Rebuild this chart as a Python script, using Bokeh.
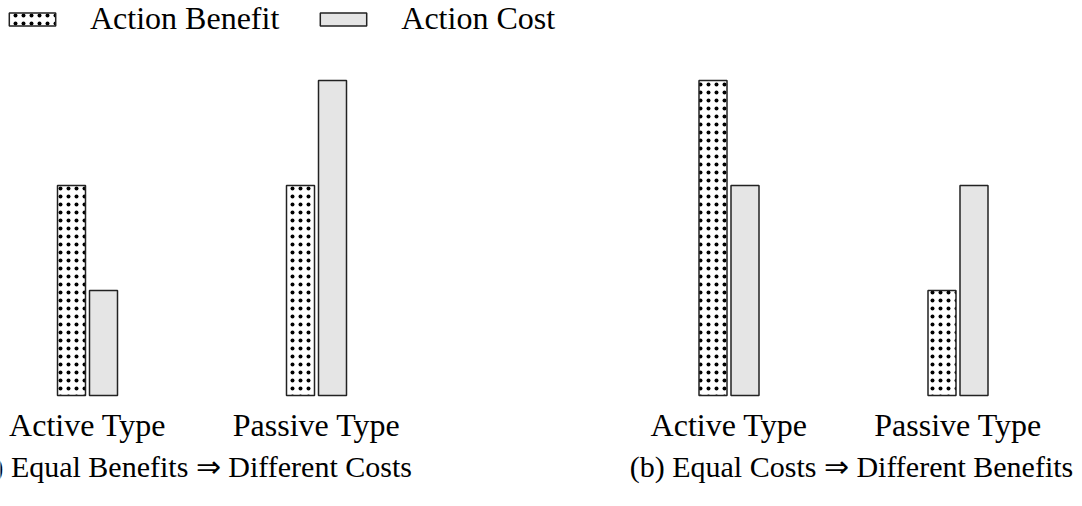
from bokeh.plotting import figure
from bokeh.models import Range1d, Legend, LegendItem, ColumnDataSource
from bokeh.core.properties import value
from bokeh.embed import file_html
from bokeh.resources import INLINE

# ---- data ----
categories = ["Active Type", "Passive Type"]
panel_captions = ["(a) Equal Benefits \u21d2 Different Costs",
                  "(b) Equal Costs \u21d2 Different Benefits"]
series_names = ["Action Benefit", "Action Cost"]
benefit_a = [2, 2]
cost_a = [1, 3]
benefit_b = [3, 1]
cost_b = [2, 2]

# ---- layout constants ----
W, H = 1080, 504
PX_X = 229.0          # pixels per category step
PX_Y = 105.0          # pixels per value unit
X0_PX = 87.0          # canvas x of first group centre
BASE_PX = 395.0       # canvas y of the baseline
panel_offset = [0.0, 641.5 / PX_X]
caption_shift = [103.5 / PX_X, 122.5 / PX_X]
bar_w = 28 / PX_X
bar_shift = 16 / PX_X
FONT = "Liberation Serif"

p = figure(width=W, height=H, output_backend="svg", toolbar_location=None,
           x_range=Range1d(-X0_PX / PX_X, (W - X0_PX) / PX_X),
           y_range=Range1d(-(H - BASE_PX) / PX_Y, BASE_PX / PX_Y),
           x_axis_type=None, y_axis_type=None, min_border=0)
p.grid.visible = False
p.outline_line_color = None
p.background_fill_color = "white"

benefits = [benefit_a, benefit_b]
costs = [cost_a, cost_b]
bx, btop, cx, ctop, lx, ltext = [], [], [], [], [], []
for pi in range(2):
    for ci, cat in enumerate(categories):
        centre = panel_offset[pi] + ci
        bx.append(centre - bar_shift)
        btop.append(benefits[pi][ci])
        cx.append(centre + bar_shift)
        ctop.append(costs[pi][ci])
        lx.append(centre)
        ltext.append(cat)

src_b = ColumnDataSource(dict(x=bx, top=btop))
src_c = ColumnDataSource(dict(x=cx, top=ctop))

rb = p.vbar(x="x", top="top", bottom=0, width=bar_w, source=src_b,
            fill_color="white", hatch_pattern="dot", hatch_color="black",
            hatch_scale=8, hatch_weight=0.4,
            line_color="#222222", line_width=1.5)
rc = p.vbar(x="x", top="top", bottom=0, width=bar_w, source=src_c,
            fill_color="#e5e5e5", line_color="#222222", line_width=1.5)

p.text(x=lx, y=[-29 / PX_Y] * len(lx), text=ltext,
       text_align="center", text_baseline="alphabetic",
       text_font=value(FONT), text_font_size="32px", text_color="black")

cap_x = [panel_offset[pi] + caption_shift[pi] for pi in range(2)]
p.text(x=cap_x, y=[-71 / PX_Y] * 2, text=panel_captions,
       text_align="center", text_baseline="alphabetic",
       text_font=value(FONT), text_font_size="30px", text_color="black")

legend = Legend(items=[LegendItem(label=series_names[0], renderers=[rb]),
                       LegendItem(label=series_names[1], renderers=[rc])],
                orientation="horizontal", location=(3, H - 37),
                glyph_width=58, glyph_height=16, label_standoff=29, spacing=35,
                padding=0, margin=0, border_line_color=None,
                background_fill_alpha=0,
                label_text_font=FONT, label_text_font_size="32px",
                label_text_color="black")
p.add_layout(legend)

open("out.html", "w").write(file_html(p, INLINE))
